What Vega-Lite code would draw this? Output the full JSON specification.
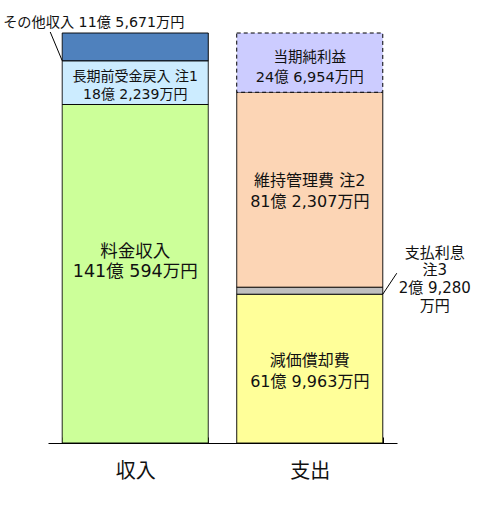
{
  "$schema": "https://vega.github.io/schema/vega-lite/v6.json",
  "width": 349,
  "height": 410,
  "autosize": {"type": "none"},
  "padding": {"left": 48, "top": 33, "right": 89, "bottom": 63},
  "background": "white",
  "config": {
    "view": {"stroke": null},
    "font": "DejaVu Sans, Noto Sans CJK JP",
    "text": {"font": "DejaVu Sans, Noto Sans CJK JP", "color": "#111", "align": "center", "baseline": "middle", "lineBreak": "\n"},
    "axisX": {
      "domainColor": "#000",
      "domainWidth": 1,
      "tickColor": "#000",
      "tickWidth": 1,
      "tickBand": "extent",
      "tickSize": -6,
      "labelFontSize": 20,
      "labelFont": "DejaVu Sans, Noto Sans CJK JP",
      "labelColor": "#111",
      "labelPadding": 24,
      "labelAngle": 0,
      "grid": false
    }
  },
  "data": {
    "values": [
      {"side": "収入", "item": "料金収入", "order": 1, "value": 141.0594, "label": "料金収入\n141億 594万円"},
      {"side": "収入", "item": "長期前受金戻入", "order": 2, "value": 18.2239, "label": "長期前受金戻入 注1\n18億 2,239万円"},
      {"side": "収入", "item": "その他収入", "order": 3, "value": 11.5671, "label": "その他収入 11億 5,671万円"},
      {"side": "支出", "item": "減価償却費", "order": 1, "value": 61.9963, "label": "減価償却費\n61億 9,963万円"},
      {"side": "支出", "item": "支払利息", "order": 2, "value": 2.928, "label": "支払利息\n注3\n2億 9,280\n万円"},
      {"side": "支出", "item": "維持管理費", "order": 3, "value": 81.2307, "label": "維持管理費 注2\n81億 2,307万円"},
      {"side": "支出", "item": "当期純利益", "order": 4, "value": 24.6954, "label": "当期純利益\n24億 6,954万円"}
    ]
  },
  "transform": [
    {"stack": "value", "groupby": ["side"], "sort": [{"field": "order", "order": "ascending"}], "as": ["v0", "v1"]}
  ],
  "layer": [
    {
      "mark": {"type": "bar", "stroke": "#000", "strokeWidth": 1},
      "encoding": {
        "x": {"field": "side", "type": "nominal", "sort": ["収入", "支出"], "title": null, "scale": {"paddingInner": 0.163, "paddingOuter": 0.0815}},
        "y": {"field": "v0", "type": "quantitative", "scale": {"domain": [0, 170.8504], "nice": false, "zero": true}, "axis": null},
        "y2": {"field": "v1"},
        "fill": {
          "field": "item",
          "type": "nominal",
          "legend": null,
          "scale": {
            "domain": ["料金収入", "長期前受金戻入", "その他収入", "減価償却費", "支払利息", "維持管理費", "当期純利益"],
            "range": ["#CCFF99", "#CCECFF", "#4F81BD", "#FFFF99", "#BFBFBF", "#FCD5B5", "#CCCCFF"]
          }
        },
        "strokeDash": {"condition": {"test": "datum.item === '当期純利益'", "value": [4, 3]}, "value": [1, 0]}
      }
    },
    {
      "transform": [{"filter": {"field": "item", "equal": "料金収入"}}],
      "mark": {"type": "text", "fontSize": 17.5, "lineHeight": 20, "dy": 148},
      "encoding": {
        "x": {"field": "side", "type": "nominal", "sort": ["収入", "支出"], "title": null},
        "y": {"field": "v1", "type": "quantitative"},
        "text": {"field": "label", "type": "nominal"}
      }
    },
    {
      "transform": [{"filter": {"field": "item", "equal": "長期前受金戻入"}}],
      "mark": {"type": "text", "fontSize": 14, "lineHeight": 17.3, "dy": 16.5},
      "encoding": {
        "x": {"field": "side", "type": "nominal", "sort": ["収入", "支出"], "title": null},
        "y": {"field": "v1", "type": "quantitative"},
        "text": {"field": "label", "type": "nominal"}
      }
    },
    {
      "transform": [{"filter": {"field": "item", "equal": "当期純利益"}}],
      "mark": {"type": "text", "fontSize": 14.5, "lineHeight": 20, "dy": 24.5},
      "encoding": {
        "x": {"field": "side", "type": "nominal", "sort": ["収入", "支出"], "title": null},
        "y": {"field": "v1", "type": "quantitative"},
        "text": {"field": "label", "type": "nominal"}
      }
    },
    {
      "transform": [{"filter": {"field": "item", "equal": "維持管理費"}}],
      "mark": {"type": "text", "fontSize": 16, "lineHeight": 21, "dy": 89},
      "encoding": {
        "x": {"field": "side", "type": "nominal", "sort": ["収入", "支出"], "title": null},
        "y": {"field": "v1", "type": "quantitative"},
        "text": {"field": "label", "type": "nominal"}
      }
    },
    {
      "transform": [{"filter": {"field": "item", "equal": "減価償却費"}}],
      "mark": {"type": "text", "fontSize": 16, "lineHeight": 21, "dy": 67},
      "encoding": {
        "x": {"field": "side", "type": "nominal", "sort": ["収入", "支出"], "title": null},
        "y": {"field": "v1", "type": "quantitative"},
        "text": {"field": "label", "type": "nominal"}
      }
    },
    {
      "transform": [{"filter": {"field": "item", "equal": "その他収入"}}],
      "mark": {"type": "text", "fontSize": 14.2, "dx": -41.5, "dy": -10},
      "encoding": {
        "x": {"field": "side", "type": "nominal", "sort": ["収入", "支出"], "title": null},
        "y": {"field": "v1", "type": "quantitative"},
        "text": {"field": "label", "type": "nominal"}
      }
    },
    {
      "transform": [{"filter": {"field": "item", "equal": "その他収入"}}],
      "mark": {"type": "rule", "color": "#000", "strokeWidth": 1, "x2Offset": -12, "y2Offset": -1},
      "encoding": {
        "x": {"field": "side", "type": "nominal", "sort": ["収入", "支出"], "title": null, "bandPosition": 0},
        "x2": {"field": "side", "bandPosition": 0},
        "y": {"field": "v0", "type": "quantitative"},
        "y2": {"field": "v1"}
      }
    },
    {
      "transform": [{"filter": {"field": "item", "equal": "支払利息"}}],
      "mark": {"type": "text", "fontSize": 15, "lineHeight": 17.7, "dx": 52, "dy": -34.5},
      "encoding": {
        "x": {"field": "side", "type": "nominal", "sort": ["収入", "支出"], "title": null, "bandPosition": 1},
        "y": {"field": "v1", "type": "quantitative"},
        "text": {"field": "label", "type": "nominal"}
      }
    },
    {
      "transform": [{"filter": {"field": "item", "equal": "支払利息"}}],
      "mark": {"type": "rule", "color": "#000", "strokeWidth": 1, "x2Offset": 14, "y2Offset": -14},
      "encoding": {
        "x": {"field": "side", "type": "nominal", "sort": ["収入", "支出"], "title": null, "bandPosition": 1},
        "x2": {"field": "side", "bandPosition": 1},
        "y": {"field": "v0", "type": "quantitative"},
        "y2": {"field": "v1"}
      }
    }
  ]
}
